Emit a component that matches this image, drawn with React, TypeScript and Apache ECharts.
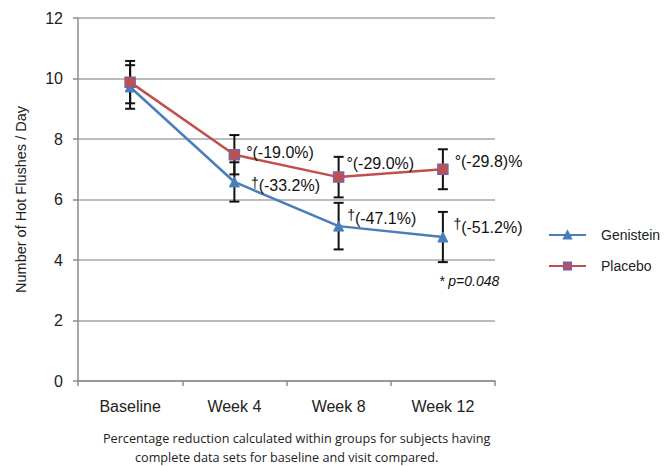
import React, { useEffect, useRef } from "react";
import * as echarts from "echarts";

const categories = ["Baseline", "Week 4", "Week 8", "Week 12"];
const genistein = [9.72, 6.58, 5.12, 4.76];
const placebo = [9.88, 7.48, 6.74, 7.0];
const genisteinErr = [0.72, 0.65, 0.77, 0.83];
const placeboErr = [0.7, 0.65, 0.67, 0.66];
const genisteinNotes = ["", "(-33.2%)", "(-47.1%)", "(-51.2%)"];
const placeboNotes = ["", "(-19.0%)", "(-29.0%)", "(-29.8)%"];
const footerLines = [
  "Percentage reduction calculated within groups for subjects having",
  "complete data sets for baseline and visit compared.",
];

const genLabelOffsets = [[0, 0], [11, 4], [3, -8], [5, -10]];
const plaLabelOffsets = [[0, 0], [6, -2], [2, -14], [6, -8]];

const BLUE = "#4a7ebb";
const RED = "#c0504d";
const PURPLE = "#7d60a0";
const FONT = "'Liberation Sans', Arial, sans-serif";

function buildItems(values: number[], notes: string[], mark: string, raised: boolean, offsets: number[][]) {
  return values.map((v, i) => ({
    value: v,
    label: notes[i]
      ? {
          show: true,
          position: "right",
          distance: 0,
          offset: offsets[i],
          formatter: `{${raised ? "r" : "s"}|${mark}}{t|${notes[i]}}`,
          rich: {
            r: { fontSize: 14, color: "#111", fontFamily: FONT, verticalAlign: "top", lineHeight: 12 },
            s: { fontSize: 16, color: "#111", fontFamily: FONT, verticalAlign: "middle", lineHeight: 20 },
            t: { fontSize: 16, color: "#111", fontFamily: FONT, verticalAlign: "middle", lineHeight: 20 },
          },
        }
      : { show: false },
  }));
}

function errData(values: number[], errs: number[]) {
  return values.map((v, i) => [i, v - errs[i], v + errs[i]]);
}

function renderErr(params: any, api: any) {
  const idx = api.value(0);
  const lo = api.coord([idx, api.value(1)]);
  const hi = api.coord([idx, api.value(2)]);
  const w = 5;
  const style = { stroke: "#111", lineWidth: 2 };
  return {
    type: "group",
    children: [
      { type: "line", shape: { x1: lo[0], y1: lo[1], x2: hi[0], y2: hi[1] }, style },
      { type: "line", shape: { x1: lo[0] - w, y1: lo[1], x2: lo[0] + w, y2: lo[1] }, style },
      { type: "line", shape: { x1: hi[0] - w, y1: hi[1], x2: hi[0] + w, y2: hi[1] }, style },
    ],
  };
}

export default function App() {
  const ref = useRef<HTMLDivElement>(null);
  useEffect(() => {
    if (!ref.current) return;
    const chart = echarts.init(ref.current, undefined, { renderer: "svg" });
    chart.setOption({
      animation: false,
      backgroundColor: "#ffffff",
      grid: { left: 78, right: 170, top: 18, bottom: 85 },
      legend: {
        orient: "vertical",
        left: 543,
        top: 223,
        itemWidth: 37,
        itemHeight: 9,
        itemGap: 17,
        data: ["Genistein", "Placebo"],
        textStyle: { fontSize: 14, color: "#222", fontFamily: FONT, padding: [0, 0, 0, 10] },
      },
      xAxis: {
        type: "category",
        data: categories,
        boundaryGap: true,
        axisLine: { lineStyle: { color: "#8c8c8c", width: 1.5 } },
        axisTick: { show: true, length: 5, alignWithLabel: false, lineStyle: { color: "#8c8c8c", width: 1.5 } },
        axisLabel: { fontSize: 16, color: "#222", fontFamily: FONT, margin: 17 },
      },
      yAxis: {
        type: "value",
        min: 0,
        max: 12,
        interval: 2,
        name: "Number of Hot Flushes / Day",
        nameLocation: "middle",
        nameGap: 50,
        nameTextStyle: { fontSize: 14.5, color: "#222", fontFamily: FONT },
        axisLine: { show: true, lineStyle: { color: "#8c8c8c", width: 1.5 } },
        axisTick: { show: true, length: 5, lineStyle: { color: "#8c8c8c", width: 1.5 } },
        axisLabel: { fontSize: 16, color: "#222", fontFamily: FONT, margin: 15 },
        splitLine: { lineStyle: { color: "#a6a6a6", width: 1.5 } },
      },
      series: [
        {
          type: "custom",
          name: "genErr",
          data: errData(genistein, genisteinErr),
          renderItem: renderErr,
          z: 1,
          silent: true,
        },
        {
          type: "custom",
          name: "plaErr",
          data: errData(placebo, placeboErr),
          renderItem: renderErr,
          z: 1,
          silent: true,
        },
        {
          type: "line",
          name: "Genistein",
          data: buildItems(genistein, genisteinNotes, "†", true, genLabelOffsets),
          symbol: "triangle",
          symbolSize: 10,
          lineStyle: { color: BLUE, width: 2.5 },
          itemStyle: { color: BLUE, borderColor: BLUE, borderWidth: 1 },
          z: 3,
        },
        {
          type: "line",
          name: "Placebo",
          data: buildItems(placebo, placeboNotes, "°", false, plaLabelOffsets),
          symbol: "rect",
          symbolSize: 10,
          lineStyle: { color: RED, width: 2.5 },
          itemStyle: { color: RED, borderColor: PURPLE, borderWidth: 1.5 },
          z: 4,
        },
      ],
      graphic: [
        {
          type: "text",
          left: 439,
          top: 274,
          style: { text: "* p=0.048", fontSize: 14, fontStyle: "italic", fill: "#111", fontFamily: FONT },
        },
        {
          type: "text",
          x: 103,
          y: 431,
          style: {
            text: footerLines[0],
            fontSize: 12.65,
            fill: "#222",
            align: "left",
            fontFamily: "'Open Sans', 'Noto Sans', sans-serif",
          },
        },
        {
          type: "text",
          x: 135,
          y: 450,
          style: {
            text: footerLines[1],
            fontSize: 12.65,
            fill: "#222",
            align: "left",
            fontFamily: "'Open Sans', 'Noto Sans', sans-serif",
          },
        },
      ],
    });
    return () => chart.dispose();
  }, []);
  return <div ref={ref} style={{ width: 665, height: 466, position: "absolute", left: 0, top: 0 }} />;
}
